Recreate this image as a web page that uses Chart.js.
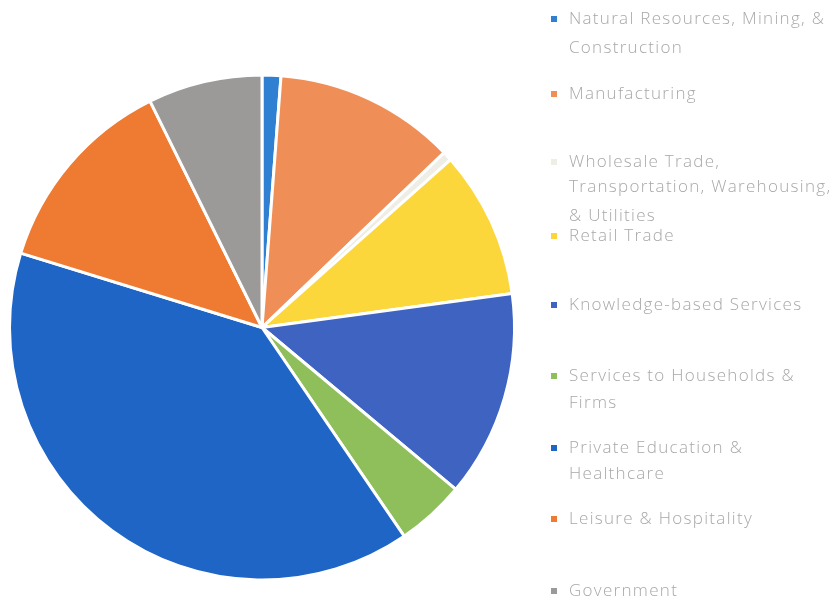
<!DOCTYPE html>
<html>
<head>
  <title>Employment by Sector</title>
  <script src="https://cdn.jsdelivr.net/npm/chart.js"></script>
  <style>
    html, body { margin: 0; padding: 0; background: #fff; }
    #wrap { width: 836px; height: 598px; position: relative; }
  </style>
</head>
<body>
  <div id="wrap"><canvas id="pie"></canvas></div>
  <script>
    // sectors, clockwise from 12 o'clock
    const sectors = [
      ['Natural Resources, Mining, &', 'Construction'],
      ['Manufacturing'],
      ['Wholesale Trade,', 'Transportation, Warehousing,', '& Utilities'],
      ['Retail Trade'],
      ['Knowledge-based Services'],
      ['Services to Households &', 'Firms'],
      ['Private Education &', 'Healthcare'],
      ['Leisure & Hospitality'],
      ['Government']
    ];
    const shares = [1.2, 11.6, 0.6, 9.4, 13.2, 4.4, 39.2, 12.9, 7.3];
    const sectorColors = ['#2f7fd2', '#ef8f57', '#eeeee6', '#fcd73c', '#3e63c1', '#8fbf5b', '#1f65c6', '#ef7a32', '#9b9a99'];

    // legend line positions (y of each text line)
    const legendRows = [[19, 48], [94], [162, 187, 216], [236], [305], [376, 403], [448, 474], [519], [591]];

    const sideLegend = {
      id: 'sideLegend',
      afterDraw(chart) {
        const ctx = chart.ctx;
        const colors = chart.data.datasets[0].backgroundColor;
        ctx.save();
        ctx.font = '300 17px "Open Sans", sans-serif';
        ctx.letterSpacing = '1.3px';
        ctx.textBaseline = 'middle';
        chart.data.labels.forEach((lines, i) => {
          const ys = legendRows[i];
          ctx.fillStyle = colors[i];
          ctx.fillRect(551, ys[0] - 3, 6, 6);
          ctx.fillStyle = '#a8a8a8';
          lines.forEach((line, j) => ctx.fillText(line, 569, ys[j]));
        });
        ctx.restore();
      }
    };

    new Chart(document.getElementById('pie'), {
      type: 'pie',
      data: {
        labels: sectors,
        datasets: [{
          data: shares,
          backgroundColor: sectorColors,
          borderColor: '#ffffff',
          borderWidth: 3
        }]
      },
      options: {
        responsive: true,
        maintainAspectRatio: false,
        animation: false,
        layout: { padding: { top: 73, bottom: 16, left: 8, right: 320 } },
        plugins: {
          legend: { display: false },
          tooltip: { enabled: false }
        }
      },
      plugins: [sideLegend]
    });
  </script>
</body>
</html>
